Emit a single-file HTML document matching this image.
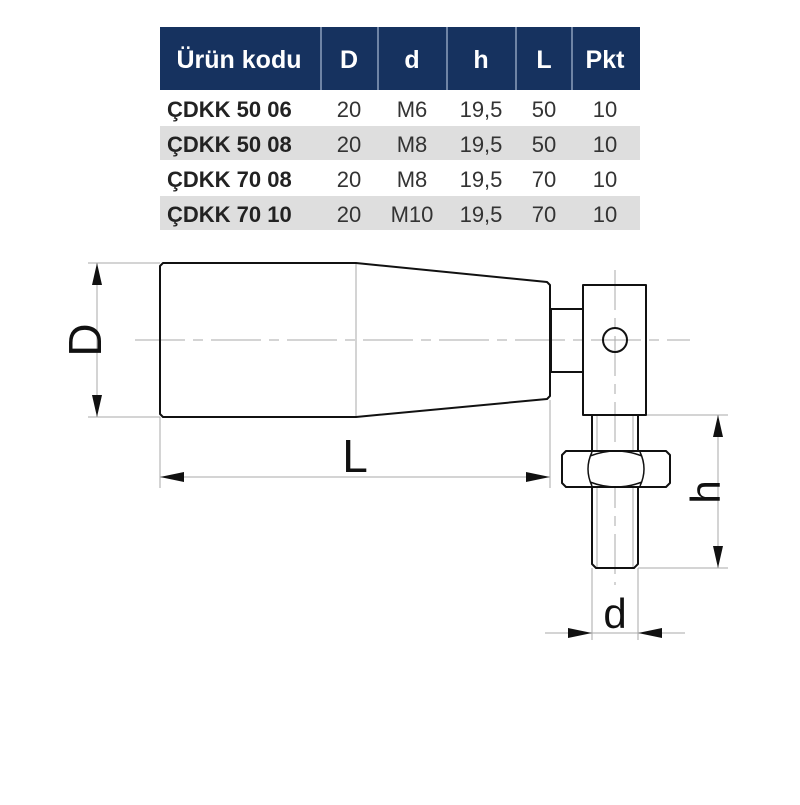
<!DOCTYPE html>
<html><head><meta charset="utf-8"><style>
body{margin:0;background:#fff;width:800px;height:800px;overflow:hidden;font-family:"Liberation Sans",sans-serif}
</style></head><body>
<svg width="800" height="800" xmlns="http://www.w3.org/2000/svg" font-family="Liberation Sans, DejaVu Sans, sans-serif">
<!-- table -->
<rect x="160" y="27" width="480" height="63" fill="#16325f"/>
<g stroke="#8da0bd" stroke-width="1.5">
<line x1="321" y1="27" x2="321" y2="90"/><line x1="378" y1="27" x2="378" y2="90"/>
<line x1="447" y1="27" x2="447" y2="90"/><line x1="516" y1="27" x2="516" y2="90"/>
<line x1="572" y1="27" x2="572" y2="90"/>
</g>
<g fill="#fff" font-weight="bold" font-size="25" text-anchor="middle">
<text x="239" y="68">Ürün kodu</text><text x="349" y="68">D</text><text x="412" y="68">d</text>
<text x="481" y="68">h</text><text x="544" y="68">L</text><text x="605" y="68">Pkt</text>
</g>
<rect x="160" y="126" width="480" height="34" fill="#dedede"/>
<rect x="160" y="196" width="480" height="34" fill="#dedede"/>
<g font-size="22" fill="#333" text-anchor="middle">
<g font-weight="bold" text-anchor="start" fill="#222"><text x="167" y="117">ÇDKK 50 06</text><text x="167" y="152">ÇDKK 50 08</text><text x="167" y="187">ÇDKK 70 08</text><text x="167" y="222">ÇDKK 70 10</text></g>
<text x="349" y="117">20</text><text x="412" y="117">M6</text><text x="481" y="117">19,5</text><text x="544" y="117">50</text><text x="605" y="117">10</text>
<text x="349" y="152">20</text><text x="412" y="152">M8</text><text x="481" y="152">19,5</text><text x="544" y="152">50</text><text x="605" y="152">10</text>
<text x="349" y="187">20</text><text x="412" y="187">M8</text><text x="481" y="187">19,5</text><text x="544" y="187">70</text><text x="605" y="187">10</text>
<text x="349" y="222">20</text><text x="412" y="222">M10</text><text x="481" y="222">19,5</text><text x="544" y="222">70</text><text x="605" y="222">10</text>
</g>
<!-- thin lines -->
<g stroke="#aaa" stroke-width="1" fill="none">
<line x1="88" y1="263" x2="160" y2="263"/><line x1="88" y1="417" x2="160" y2="417"/>
<line x1="160" y1="417" x2="160" y2="488"/><line x1="550" y1="400" x2="550" y2="488"/>
<line x1="356" y1="263" x2="356" y2="417"/>
<line x1="97" y1="263" x2="97" y2="417"/>
<line x1="160" y1="477" x2="550" y2="477"/>
<line x1="646" y1="415" x2="728" y2="415"/><line x1="638" y1="568" x2="728" y2="568"/>
<line x1="718" y1="415" x2="718" y2="568"/>
<line x1="592" y1="568" x2="592" y2="640"/><line x1="638" y1="568" x2="638" y2="640"/>
<line x1="545" y1="633" x2="685" y2="633"/>
<line x1="597" y1="415" x2="597" y2="451"/><line x1="633" y1="415" x2="633" y2="451"/>
<line x1="597" y1="487" x2="597" y2="568"/><line x1="633" y1="487" x2="633" y2="568"/>
<line x1="135" y1="340" x2="690" y2="340" stroke-dasharray="50,8,10,8"/>
<line x1="615" y1="270" x2="615" y2="585" stroke-dasharray="40,8,10,8"/>
</g>
<!-- arrows -->
<g fill="#111">
<polygon points="97,263 92,285 102,285"/><polygon points="97,417 92,395 102,395"/>
<polygon points="160,477 184,472 184,482"/><polygon points="550,477 526,472 526,482"/>
<polygon points="718,415 713,437 723,437"/><polygon points="718,568 713,546 723,546"/>
<polygon points="592,633 568,628 568,638"/><polygon points="638,633 662,628 662,638"/>
</g>
<!-- part -->
<g stroke="#111" stroke-width="2" fill="#fff" stroke-linejoin="round">
<path d="M163,263 L356,263 L547,282 L550,285 L550,396 L547,399 L356,417 L163,417 L160,414 L160,266 Z" fill="none"/>
<rect x="551" y="309" width="32" height="63" fill="none"/>
<rect x="583" y="285" width="63" height="130" fill="none"/>
<circle cx="615" cy="340" r="12" fill="none"/>
<path d="M592,415 L592,564 L596,568 L634,568 L638,564 L638,415" fill="none"/>
<path d="M566,451 L666,451 L670,455 L670,483 L666,487 L566,487 L562,483 L562,455 Z"/>
<path d="M592,452 Q584,469 592,486 M640,452 Q648,469 640,486 M590,456 Q616,446 642,456 M590,482 Q616,492 642,482" fill="none" stroke-width="1.5"/>
</g>
<g fill="#111" font-size="46" text-anchor="middle">
<text x="355" y="472">L</text>
<text x="615" y="628" font-size="42">d</text>
<text transform="translate(101,340) rotate(-90)">D</text>
<text transform="translate(720,492) rotate(-90)" font-size="42">h</text>
</g>
</svg>
</body></html>
